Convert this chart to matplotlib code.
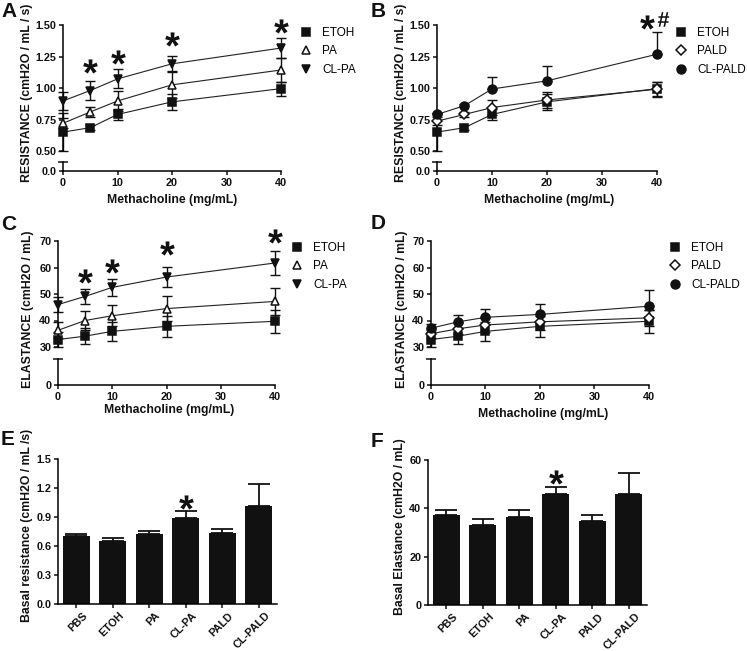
import numpy as np
import matplotlib
matplotlib.use('Agg')
import matplotlib.pyplot as plt
from matplotlib.textpath import TextPath
from matplotlib.font_manager import FontProperties
from matplotlib.path import Path
from matplotlib.lines import Line2D
from matplotlib.transforms import ScaledTranslation

FONT = 'Liberation Sans'
plt.rcParams['font.family'] = [FONT, 'DejaVu Sans']
plt.rcParams['axes.linewidth'] = 1.1

W, H = 747, 651
fig = plt.figure(figsize=(W / 100, H / 100), dpi=100)

# ---------------- data ----------------
dose = [0, 5, 10, 20, 40]
dose_ticks = [0, 10, 20, 30, 40]

# Panel A / B : resistance (cmH2O/mL/s)
res_etoh = [0.650, 0.685, 0.790, 0.890, 0.995]
res_etoh_err = [0.150, 0.020, 0.045, 0.062, 0.055]
res_pa = [0.720, 0.810, 0.897, 1.025, 1.143]
res_pa_err = [0.040, 0.040, 0.080, 0.105, 0.097]
res_clpa = [0.897, 0.980, 1.072, 1.192, 1.317]
res_clpa_err = [0.072, 0.072, 0.075, 0.060, 0.078]
res_pald = [0.737, 0.790, 0.845, 0.905, 0.990]
res_pald_err = [0.030, 0.020, 0.060, 0.065, 0.060]
res_clpald = [0.790, 0.860, 0.992, 1.057, 1.268]
res_clpald_err = [0.010, 0.010, 0.095, 0.115, 0.175]

# Panel C / D : elastance (cmH2O/mL)
ela_etoh = [32.8, 34.1, 35.9, 37.8, 39.7]
ela_etoh_err = [2.8, 3.1, 3.6, 4.0, 4.3]
ela_pa = [36.3, 40.0, 41.8, 44.5, 47.2]
ela_pa_err = [3.0, 3.5, 3.9, 4.6, 5.2]
ela_clpa = [46.0, 49.1, 52.5, 56.4, 61.7]
ela_clpa_err = [2.8, 2.8, 3.2, 3.7, 4.5]
ela_pald = [35.0, 36.9, 38.3, 39.5, 41.0]
ela_pald_err = [1.5, 2.0, 2.5, 3.0, 3.0]
ela_clpald = [37.1, 39.5, 41.2, 42.3, 45.4]
ela_clpald_err = [1.5, 2.5, 3.3, 4.0, 6.0]

# significance marks
starsA_x = [5, 10, 20, 40]
starsA_y = [1.175, 1.246, 1.389, 1.492]
starsC_x = [5, 10, 20, 40]
starsC_y = [56.9, 60.4, 67.2, 71.9]
starB_x, starB_y = [38.2], [1.525]
hashB_x, hashB_y = [41.1], [1.545]

# Panel E / F : basal values
groups = ['PBS', 'ETOH', 'PA', 'CL-PA', 'PALD', 'CL-PALD']
basal_res = [0.707, 0.655, 0.724, 0.886, 0.738, 1.014]
basal_res_err = [0.017, 0.023, 0.031, 0.080, 0.038, 0.224]
basal_ela = [37.2, 33.0, 36.6, 45.8, 34.8, 45.8]
basal_ela_err = [2.0, 2.6, 2.7, 2.9, 2.4, 8.7]
starE_x, starE_y = [3], [1.055]
starF_x, starF_y = [3], [53.0]

# ---------------- helpers ----------------
def add_ax(left, right, top, bottom):
    return fig.add_axes([left / W, 1 - bottom / H, (right - left) / W, (bottom - top) / H])

def glyph_marker(ch):
    tp = TextPath((0, 0), ch, size=10, prop=FontProperties(family=FONT, weight='bold'))
    v = tp.vertices.copy()
    codes = tp.codes
    mask = codes != Path.CLOSEPOLY
    mn, mx = v[mask].min(0), v[mask].max(0)
    v[:, 0] -= (mn[0] + mx[0]) / 2
    v[:, 1] -= (mn[1] + mx[1]) / 2
    v[~mask] = 0.0
    return Path(v, codes)

STAR = glyph_marker('*')
HASH = glyph_marker('#')

TICK_FS = 7.8
LAB_FS = 8.8
INK = '#111111'
STAR_MS = 10.5

STYLES = {
    'ETOH': dict(marker='s', ms=5.6, mfc=INK, mec=INK),
    'PA': dict(marker='^', ms=6.2, mfc='white', mec=INK),
    'CL-PA': dict(marker='v', ms=6.2, mfc=INK, mec=INK),
    'PALD': dict(marker='D', ms=5.2, mfc='white', mec=INK),
    'CL-PALD': dict(marker='o', ms=6.4, mfc=INK, mec=INK),
}

def style_ticks(ax):
    ax.tick_params(axis='both', direction='out', length=3.2, width=1.1, labelsize=TICK_FS,
                   pad=1.5, colors=INK)
    for lab in ax.get_xticklabels() + ax.get_yticklabels():
        lab.set_fontweight('bold')

def line_panel(spine_x, x40, y_top, y_low, y_cap, y_zero, ylim, yticks, yticklabels,
               zero_label, series, legend_pos, ylabel, ylabel_xy, xlabel_xy):
    up = add_ax(spine_x, x40, y_top, y_low)
    lo = add_ax(spine_x, x40, y_cap, y_zero)
    for ax in (up, lo):
        ax.set_xlim(0, 40)
        ax.patch.set_alpha(0)
        for s in ('top', 'right'):
            ax.spines[s].set_visible(False)
    up.spines['bottom'].set_visible(False)
    up.set_ylim(*ylim)
    up.set_yticks(yticks)
    up.set_yticklabels(yticklabels)
    up.set_xticks([])
    lo.set_ylim(0, 1)
    lo.set_yticks([0])
    lo.set_yticklabels([zero_label])
    lo.set_xticks(dose_ticks)
    lo.set_xticklabels([str(t) for t in dose_ticks])
    style_ticks(up)
    style_ticks(lo)
    lo.tick_params(axis='x', pad=2.0)
    # cap at top of the lower axis segment
    lo.plot([0], [1], marker='_', ms=7, mew=1.1, color=INK, transform=lo.transAxes,
            clip_on=False)
    handles = []
    for name, y, err, upper_only in series:
        st = STYLES[name]
        yerr = [np.zeros(len(err)), err] if upper_only else err
        up.errorbar(dose, y, yerr=yerr, fmt='none', ecolor=INK, elinewidth=1.0,
                    capsize=3.3, capthick=1.0, clip_on=False, zorder=2)
        up.plot(dose, y, color='#222222', lw=0.8, clip_on=False, zorder=3, **st,
                markeredgewidth=1.1)
        handles.append(Line2D([], [], linestyle='none', markeredgewidth=1.1, label=name, **st))
    fig.legend(handles=handles, loc='upper left',
               bbox_to_anchor=(legend_pos[0] / W, 1 - legend_pos[1] / H),
               frameon=False, fontsize=8.5, handlelength=1.0, handletextpad=0.9,
               labelspacing=0.55, borderpad=0, borderaxespad=0)
    fig.text(ylabel_xy[0] / W, 1 - ylabel_xy[1] / H, ylabel, rotation=90, ha='center',
             va='center', fontsize=LAB_FS, fontweight='bold', color=INK)
    fig.text(xlabel_xy[0] / W, 1 - xlabel_xy[1] / H, 'Methacholine (mg/mL)', ha='center',
             va='center', fontsize=LAB_FS, fontweight='bold', color=INK)
    return up, lo

def bar_panel(spine_x, right, y_top, y_zero, values, errs, ylim, yticks, yticklabels,
              ylabel, ylabel_xy, star_x, star_y):
    ax = add_ax(spine_x, right, y_top, y_zero)
    x = np.arange(len(groups))
    ax.bar(x, values, width=0.74, color=INK, zorder=2)
    ax.errorbar(x, values, yerr=[np.zeros(len(errs)), errs], fmt='none', ecolor=INK,
                elinewidth=1.3, capsize=8, capthick=1.3, zorder=1)
    ax.set_xlim(-0.5, 5.5)
    ax.set_ylim(*ylim)
    ax.set_yticks(yticks)
    ax.set_yticklabels(yticklabels)
    ax.set_xticks(x)
    ax.set_xticklabels(groups, rotation=45, ha='right', rotation_mode='anchor')
    for s in ('top', 'right'):
        ax.spines[s].set_visible(False)
    style_ticks(ax)
    ax.tick_params(axis='x', pad=1.5)
    shift = ScaledTranslation(0.06, 0, fig.dpi_scale_trans)
    for lab in ax.get_xticklabels():
        lab.set_fontsize(7.8)
        lab.set_transform(lab.get_transform() + shift)
    ax.plot(star_x, star_y, linestyle='none', marker=STAR, ms=STAR_MS, color=INK, mew=0,
            clip_on=False)
    fig.text(ylabel_xy[0] / W, 1 - ylabel_xy[1] / H, ylabel, rotation=90, ha='center',
             va='center', fontsize=LAB_FS, fontweight='bold', color=INK)
    return ax

res_ticks = [0.5, 0.75, 1.0, 1.25, 1.5]
res_labels = ['0.50', '0.75', '1.00', '1.25', '1.50']
ela_ticks = [30, 40, 50, 60, 70]
ela_labels = ['30', '40', '50', '60', '70']

# ---------------- Panel A ----------------
upA, loA = line_panel(63, 281, 25, 151, 162, 171, (0.5, 1.5), res_ticks, res_labels, '0.0',
                      [('ETOH', res_etoh, res_etoh_err, False),
                       ('PA', res_pa, res_pa_err, False),
                       ('CL-PA', res_clpa, res_clpa_err, False)],
                      (300, 27), 'RESISTANCE (cmH2O / mL / s)', (27.5, 93), (172, 200))
upA.plot(starsA_x, starsA_y, linestyle='none', marker=STAR, ms=STAR_MS, color=INK, mew=0,
         clip_on=False)

# ---------------- Panel B ----------------
upB, loB = line_panel(437, 657, 25, 151, 162, 171, (0.5, 1.5), res_ticks, res_labels, '0.0',
                      [('ETOH', res_etoh, res_etoh_err, False),
                       ('PALD', res_pald, res_pald_err, False),
                       ('CL-PALD', res_clpald, res_clpald_err, True)],
                      (675, 27), 'RESISTANCE (cmH2O / mL / s)', (401, 93), (549, 200))
upB.plot(starB_x, starB_y, linestyle='none', marker=STAR, ms=STAR_MS, color=INK, mew=0,
         clip_on=False)
upB.plot(hashB_x, hashB_y, linestyle='none', marker=HASH, ms=10.5, color=INK, mew=0,
         clip_on=False)

# ---------------- Panel C ----------------
upC, loC = line_panel(58, 275, 241, 347, 359, 385, (30, 70), ela_ticks, ela_labels, '0',
                      [('ETOH', ela_etoh, ela_etoh_err, False),
                       ('PA', ela_pa, ela_pa_err, False),
                       ('CL-PA', ela_clpa, ela_clpa_err, False)],
                      (291, 242), 'ELASTANCE (cmH2O / mL)', (27.5, 309), (169, 410))
upC.plot(starsC_x, starsC_y, linestyle='none', marker=STAR, ms=STAR_MS, color=INK, mew=0,
         clip_on=False)

# ---------------- Panel D ----------------
upD, loD = line_panel(431, 649, 241, 347, 359, 385, (30, 70), ela_ticks, ela_labels, '0',
                      [('ETOH', ela_etoh, ela_etoh_err, False),
                       ('PALD', ela_pald, ela_pald_err, False),
                       ('CL-PALD', ela_clpald, ela_clpald_err, True)],
                      (669, 242), 'ELASTANCE (cmH2O / mL)', (402, 309), (543, 414))

# ---------------- Panel E / F ----------------
bar_panel(58, 277, 459, 604, basal_res, basal_res_err, (0, 1.5),
          [0, 0.3, 0.6, 0.9, 1.2, 1.5], ['0.0', '0.3', '0.6', '0.9', '1.2', '1.5'],
          'Basal resistance (cmH2O / mL /s)', (27.5, 525), starE_x, starE_y)
bar_panel(428, 647, 460, 605, basal_ela, basal_ela_err, (0, 60),
          [0, 20, 40, 60], ['0', '20', '40', '60'],
          'Basal Elastance (cmH2O / mL)', (400, 527), starF_x, starF_y)

# ---------------- panel letters ----------------
for letter, (px, py) in {'A': (1, 2), 'B': (371, 2), 'C': (1, 215), 'D': (371, 214),
                         'E': (1, 430), 'F': (371, 432)}.items():
    fig.text(px / W, 1 - py / H, letter, ha='left', va='top', fontsize=15,
             fontweight='bold', color=INK)

fig.savefig('out.png', dpi=100)
